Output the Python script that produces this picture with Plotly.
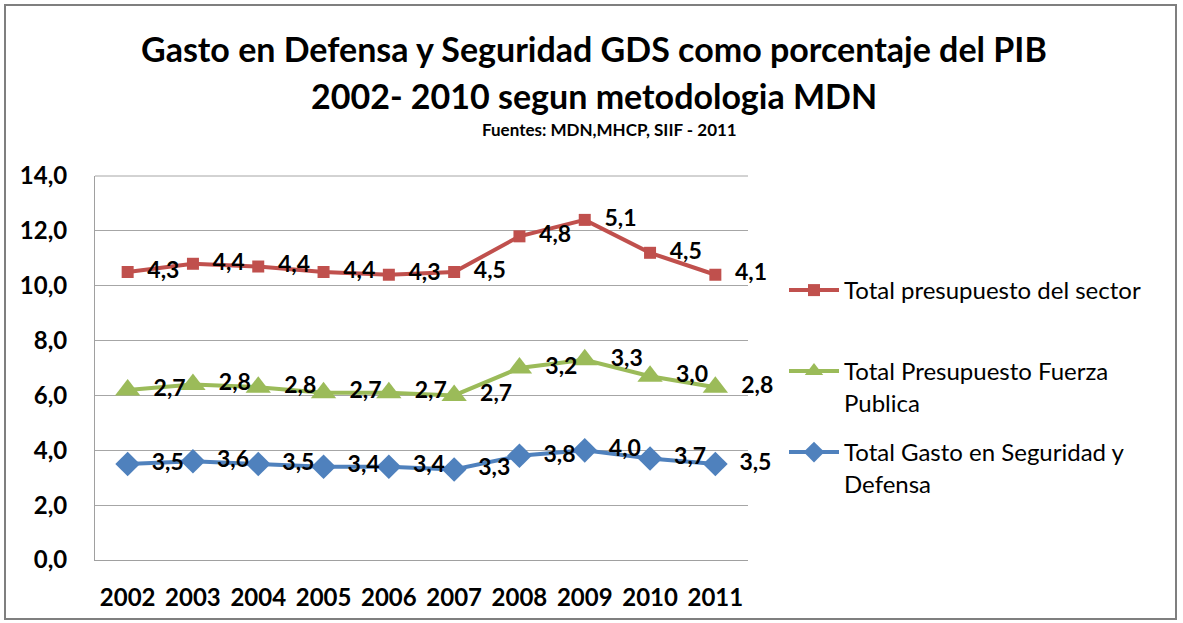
import plotly.graph_objects as go

years = ["2002", "2003", "2004", "2005", "2006", "2007", "2008", "2009", "2010", "2011"]
gasto_seg_def = [3.5, 3.6, 3.5, 3.4, 3.4, 3.3, 3.8, 4.0, 3.7, 3.5]
fuerza_publica = [2.7, 2.8, 2.8, 2.7, 2.7, 2.7, 3.2, 3.3, 3.0, 2.8]
presup_sector = [4.3, 4.4, 4.4, 4.4, 4.3, 4.5, 4.8, 5.1, 4.5, 4.1]
y_ticks = [0, 2, 4, 6, 8, 10, 12, 14]

FONT = "Lato"
W, H = 1183, 623
L, R, T, B = 95, 748, 176, 560


def px_x(p):
    return (p - L) / (R - L)


def px_y(p):
    return (B - p) / (B - T)


def lbl(vals):
    return ["\u00a0\u00a0" + f"{v:.1f}".replace(".", ",") for v in vals]


series = [
    ("Total Gasto en Seguridad y<br>Defensa", gasto_seg_def, "#4F81BD", "diamond", 19, "legend3"),
    ("Total Presupuesto Fuerza<br>Publica", fuerza_publica, "#9BBB59", "triangle-up", 22, "legend2"),
    ("Total presupuesto del sector", presup_sector, "#C0504D", "square", 12, "legend"),
]

fig = go.Figure()
for name, vals, color, sym, size, leg in series:
    fig.add_trace(go.Scatter(
        x=years, y=vals, name=name, stackgroup="one", fill="none",
        mode="lines+markers+text",
        line=dict(color=color, width=4),
        marker=dict(symbol=sym, size=size, color=color),
        text=lbl(vals), textposition="middle right",
        textfont=dict(family=FONT, size=23, color="black", weight="bold"),
        cliponaxis=False, legend=leg,
    ))

leg_common = dict(font=dict(family=FONT, size=24, color="#000000"), bgcolor="rgba(0,0,0,0)",
                  xanchor="left", yanchor="top", valign="top", itemwidth=50)
fig.update_layout(
    width=W, height=H,
    margin=dict(l=L, r=W - R, t=T, b=H - B),
    paper_bgcolor="white", plot_bgcolor="white",
    separators=",.",
    showlegend=True,
    legend=dict(x=px_x(784), y=px_y(268), **leg_common),
    legend2=dict(x=px_x(784), y=px_y(349), **leg_common),
    legend3=dict(x=px_x(784), y=px_y(430), **leg_common),
    xaxis=dict(type="category", range=[-0.5, 9.5], showgrid=False,
               showline=True, linecolor="#A0A0A0", linewidth=1,
               tickfont=dict(family=FONT, size=24, color="black", weight="bold"),
               ticklabelstandoff=16, ticks=""),
    yaxis=dict(range=[0, 14], tickvals=y_ticks, tickformat=".1f",
               showgrid=True, gridcolor="#A6A6A6", gridwidth=1,
               showline=True, linecolor="#A0A0A0", linewidth=1, mirror=False,
               zeroline=False,
               tickfont=dict(family=FONT, size=24, color="black", weight="bold"),
               ticklabelstandoff=22, ticks=""),
    annotations=[
        dict(text="Gasto en Defensa y Seguridad GDS como porcentaje del PIB", xref="paper", yref="paper",
             x=px_x(594), y=px_y(48), xanchor="center", yanchor="middle", showarrow=False,
             font=dict(family=FONT, size=34, color="black", weight="bold")),
        dict(text="2002- 2010 segun metodologia MDN", xref="paper", yref="paper",
             x=px_x(594), y=px_y(95), xanchor="center", yanchor="middle", showarrow=False,
             font=dict(family=FONT, size=34, color="black", weight="bold")),
        dict(text="Fuentes: MDN,MHCP, SIIF - 2011", xref="paper", yref="paper",
             x=px_x(609), y=px_y(130), xanchor="center", yanchor="middle", showarrow=False,
             font=dict(family=FONT, size=17, color="black", weight="bold")),
    ],
    shapes=[
        dict(type="rect", xref="paper", yref="paper",
             x0=px_x(5), x1=px_x(1176), y0=px_y(619), y1=px_y(5),
             line=dict(color="#7F7F7F", width=2), fillcolor="rgba(0,0,0,0)", layer="below"),
        dict(type="line", xref="paper", yref="paper", x0=0, x1=1, y0=1, y1=1,
             line=dict(color="#A6A6A6", width=1)),
    ],
)

fig.write_html("out.html", config={"displayModeBar": False},
               post_script="document.body.style.margin='0';document.body.style.overflow='hidden';")
